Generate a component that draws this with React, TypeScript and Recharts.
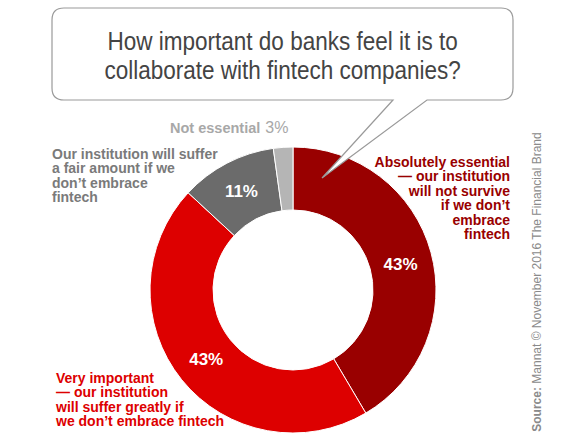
import { Fragment } from 'react';
import { PieChart, Pie, Cell } from 'recharts';

// shares as drawn (slice angles), and the printed labels
const categories = ['Absolutely essential', 'Very important', 'Suffer a fair amount', 'Not essential'];
const shares = [41.5, 45.4, 10.9, 2.2];
const shareLabels = ['43%', '43%', '11%', '3%'];

const essentialLines = ['Absolutely essential', '— our institution', 'will not survive', 'if we don’t', 'embrace', 'fintech'];
const veryImportantLines = ['Very important', '— our institution', 'will suffer greatly if', 'we don’t embrace fintech'];
const fairAmountLines = ['Our institution will suffer', 'a fair amount if we', 'don’t embrace', 'fintech'];
const notEssentialLabel = 'Not essential';

const titleLines = ['How important do banks feel it is to', 'collaborate with fintech companies?'];
const sourceBold = 'Source:';
const sourceText = ' Mannat © November 2016 The Financial Brand';

const COLORS = ['#990000', '#dd0000', '#6b6b6b', '#b5b5b5'];
const FONT = '"Liberation Sans", Arial, sans-serif';

const data = categories.map((name, i) => ({ name, value: shares[i], label: shareLabels[i] }));

const RADIAN = Math.PI / 180;

function SliceLabel(props: any) {
  const { cx, cy, midAngle, innerRadius, outerRadius, index } = props;
  if (index === 3) return null;
  const r = (innerRadius + outerRadius) / 2;
  const x = cx + r * Math.cos(-midAngle * RADIAN);
  const y = cy + r * Math.sin(-midAngle * RADIAN);
  return (
    <text x={x} y={y + (index === 0 ? 4 : 0)} fill="#fff" textAnchor="middle" dominantBaseline="central" fontSize={17} fontWeight="bold" fontFamily={FONT}>
      {shareLabels[index]}
    </text>
  );
}

function Block({ lines, color, left, right, top }: { lines: string[]; color: string; left?: number; right?: number; top: number }) {
  return (
    <div
      style={{
        position: 'absolute',
        left,
        right,
        top,
        color,
        fontSize: 14,
        lineHeight: '14.4px',
        fontWeight: 'bold',
        textAlign: right !== undefined ? 'right' : 'left',
        whiteSpace: 'nowrap',
      }}
    >
      {lines.map((l, i) => (
        <Fragment key={l}>
          {i > 0 && <br />}
          {l}
        </Fragment>
      ))}
    </div>
  );
}

export default function App() {
  return (
    <div style={{ position: 'absolute', left: 0, top: 0, width: 565, height: 442, background: '#fff', fontFamily: FONT, overflow: 'hidden' }}>
      <div style={{ position: 'absolute', left: 138, top: 135 }}>
        <PieChart width={300} height={300}>
          <Pie
            data={data}
            dataKey="value"
            cx={150}
            cy={150}
            innerRadius={80}
            outerRadius={143}
            startAngle={90}
            endAngle={-270}
            stroke="#fff"
            strokeWidth={1}
            label={SliceLabel}
            labelLine={false}
            isAnimationActive={false}
          >
            {data.map((d, i) => (
              <Cell key={d.name} fill={COLORS[i]} />
            ))}
          </Pie>
        </PieChart>
      </div>

      {/* speech bubble */}
      <svg width={565} height={442} style={{ position: 'absolute', left: 0, top: 0 }}>
        <path
          d="M64 8 H501 Q513 8 513 20 V88 Q513 100 501 100 H427 L322 178 L393 100 H64 Q52 100 52 88 V20 Q52 8 64 8 Z"
          fill="#fff"
          stroke="#9a9a9a"
          strokeWidth={1.2}
        />
      </svg>

      {titleLines.map((t, i) => (
        <div
          key={t}
          style={{
            position: 'absolute',
            left: 0,
            width: 565,
            top: 27 + i * 29,
            textAlign: 'center',
            fontSize: 25,
            lineHeight: '29px',
            color: '#444',
            transform: 'scaleX(0.9)',
            transformOrigin: '284px 0',
            whiteSpace: 'nowrap',
          }}
        >
          {t}
        </div>
      ))}

      <div style={{ position: 'absolute', left: 170, top: 119, whiteSpace: 'nowrap', lineHeight: '18px' }}>
        <span style={{ fontSize: 14.5, fontWeight: 'bold', color: '#a8a8a8' }}>{notEssentialLabel}</span>
        <span style={{ fontSize: 16, color: '#a8a8a8', marginLeft: 5 }}>{shareLabels[3]}</span>
      </div>

      <Block lines={fairAmountLines} color="#7a7a7a" left={52} top={147} />
      <Block lines={essentialLines} color="#990000" right={565 - 510} top={155} />
      <Block lines={veryImportantLines} color="#dd0000" left={56} top={371} />

      <div
        style={{
          position: 'absolute',
          left: 537 - 150,
          width: 300,
          top: 282 - 8,
          lineHeight: '16px',
          fontSize: 12,
          color: '#8a8a8a',
          textAlign: 'center',
          transform: 'rotate(-90deg)',
          transformOrigin: '150px 8px',
          whiteSpace: 'nowrap',
        }}
      >
        <b>{sourceBold}</b>
        {sourceText}
      </div>
    </div>
  );
}
